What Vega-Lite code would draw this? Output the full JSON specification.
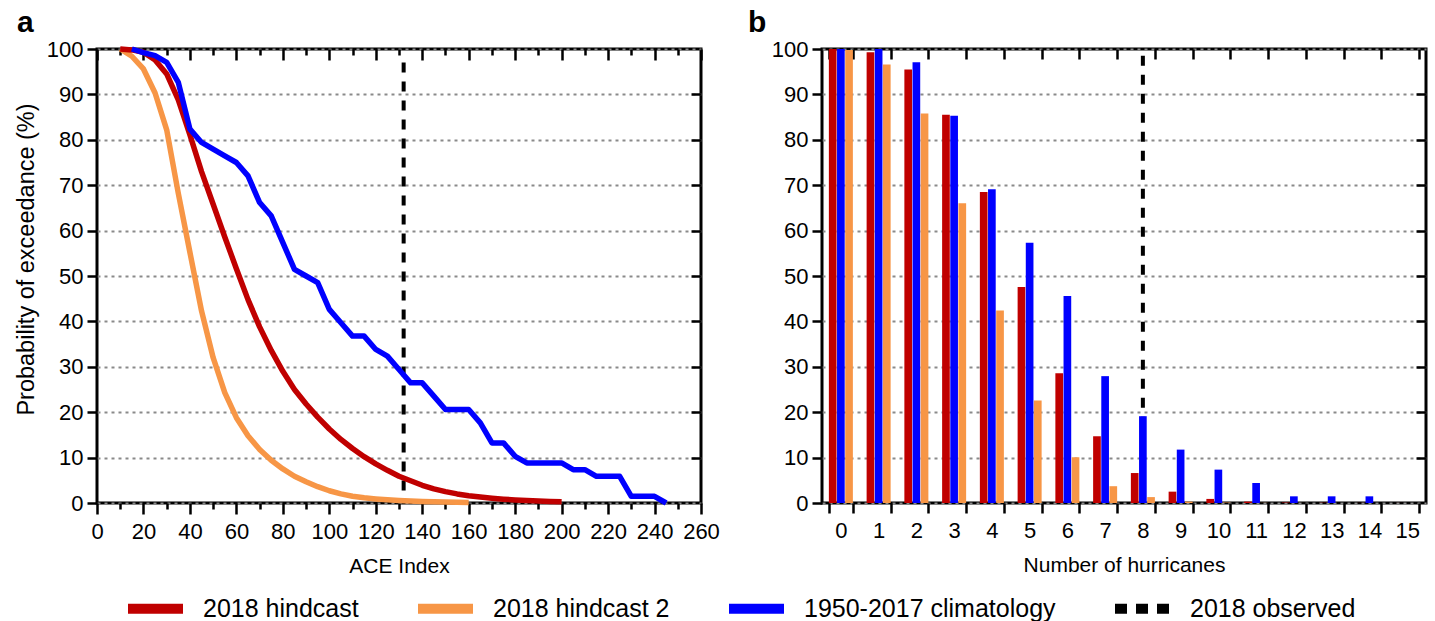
{
  "$schema": "https://vega.github.io/schema/vega-lite/v6.json",
  "background": "white",
  "padding": {"left": 12, "top": 6, "right": 5, "bottom": 0},
  "config": {
    "view": {"stroke": "#000", "strokeWidth": 3},
    "font": "Liberation Sans",
    "axis": {
      "domain": false, "tickColor": "#000", "tickWidth": 2.5,
      "labelFont": "Liberation Sans", "labelFontSize": 22, "labelColor": "#000", "labelPadding": 4, "labelOverlap": false, "labelFlush": false,
      "titleFont": "Liberation Sans", "titleFontSize": 21, "titleFontWeight": "normal", "titleColor": "#000",
      "grid": false
    },
    "legend": {
      "labelFont": "Liberation Sans", "labelFontSize": 25, "labelColor": "#000", "labelLimit": 0,
      "symbolType": "stroke", "symbolSize": 3025, "symbolStrokeWidth": 10,
      "labelOffset": 15, "columnPadding": 39
    }
  },
  "datasets": {
    "curves": [
      {"series": "2018 hindcast 2", "ace": 10, "prob": 100},
      {"series": "2018 hindcast 2", "ace": 15, "prob": 98.4},
      {"series": "2018 hindcast 2", "ace": 20, "prob": 95.6},
      {"series": "2018 hindcast 2", "ace": 25, "prob": 90.3},
      {"series": "2018 hindcast 2", "ace": 30, "prob": 82.2},
      {"series": "2018 hindcast 2", "ace": 35, "prob": 68.2},
      {"series": "2018 hindcast 2", "ace": 40, "prob": 55.2},
      {"series": "2018 hindcast 2", "ace": 45, "prob": 42.3},
      {"series": "2018 hindcast 2", "ace": 50, "prob": 32},
      {"series": "2018 hindcast 2", "ace": 55, "prob": 24.3},
      {"series": "2018 hindcast 2", "ace": 60, "prob": 18.8},
      {"series": "2018 hindcast 2", "ace": 65, "prob": 14.8},
      {"series": "2018 hindcast 2", "ace": 70, "prob": 11.8},
      {"series": "2018 hindcast 2", "ace": 75, "prob": 9.4},
      {"series": "2018 hindcast 2", "ace": 80, "prob": 7.5},
      {"series": "2018 hindcast 2", "ace": 85, "prob": 5.9},
      {"series": "2018 hindcast 2", "ace": 90, "prob": 4.7},
      {"series": "2018 hindcast 2", "ace": 95, "prob": 3.6},
      {"series": "2018 hindcast 2", "ace": 100, "prob": 2.7},
      {"series": "2018 hindcast 2", "ace": 105, "prob": 2.0},
      {"series": "2018 hindcast 2", "ace": 110, "prob": 1.5},
      {"series": "2018 hindcast 2", "ace": 115, "prob": 1.15},
      {"series": "2018 hindcast 2", "ace": 120, "prob": 0.9},
      {"series": "2018 hindcast 2", "ace": 125, "prob": 0.7},
      {"series": "2018 hindcast 2", "ace": 130, "prob": 0.55},
      {"series": "2018 hindcast 2", "ace": 135, "prob": 0.45},
      {"series": "2018 hindcast 2", "ace": 140, "prob": 0.35},
      {"series": "2018 hindcast 2", "ace": 145, "prob": 0.27},
      {"series": "2018 hindcast 2", "ace": 150, "prob": 0.2},
      {"series": "2018 hindcast 2", "ace": 155, "prob": 0.15},
      {"series": "2018 hindcast 2", "ace": 160, "prob": 0.1},
      {"series": "2018 hindcast", "ace": 10, "prob": 100},
      {"series": "2018 hindcast", "ace": 15, "prob": 99.8},
      {"series": "2018 hindcast", "ace": 20, "prob": 99.3},
      {"series": "2018 hindcast", "ace": 25, "prob": 97.6},
      {"series": "2018 hindcast", "ace": 30, "prob": 94.5},
      {"series": "2018 hindcast", "ace": 35, "prob": 88.8},
      {"series": "2018 hindcast", "ace": 40, "prob": 81.1},
      {"series": "2018 hindcast", "ace": 45, "prob": 73},
      {"series": "2018 hindcast", "ace": 50, "prob": 65.8},
      {"series": "2018 hindcast", "ace": 55, "prob": 58.6},
      {"series": "2018 hindcast", "ace": 60, "prob": 51.6},
      {"series": "2018 hindcast", "ace": 65, "prob": 44.8},
      {"series": "2018 hindcast", "ace": 70, "prob": 38.8},
      {"series": "2018 hindcast", "ace": 75, "prob": 33.6},
      {"series": "2018 hindcast", "ace": 80, "prob": 29},
      {"series": "2018 hindcast", "ace": 85, "prob": 25},
      {"series": "2018 hindcast", "ace": 90, "prob": 21.8},
      {"series": "2018 hindcast", "ace": 95, "prob": 18.9},
      {"series": "2018 hindcast", "ace": 100, "prob": 16.3},
      {"series": "2018 hindcast", "ace": 105, "prob": 14},
      {"series": "2018 hindcast", "ace": 110, "prob": 12},
      {"series": "2018 hindcast", "ace": 115, "prob": 10.2},
      {"series": "2018 hindcast", "ace": 120, "prob": 8.6},
      {"series": "2018 hindcast", "ace": 125, "prob": 7.2},
      {"series": "2018 hindcast", "ace": 130, "prob": 5.9},
      {"series": "2018 hindcast", "ace": 135, "prob": 4.9},
      {"series": "2018 hindcast", "ace": 140, "prob": 3.9},
      {"series": "2018 hindcast", "ace": 145, "prob": 3.1},
      {"series": "2018 hindcast", "ace": 150, "prob": 2.5},
      {"series": "2018 hindcast", "ace": 155, "prob": 2.0},
      {"series": "2018 hindcast", "ace": 160, "prob": 1.6},
      {"series": "2018 hindcast", "ace": 165, "prob": 1.3},
      {"series": "2018 hindcast", "ace": 170, "prob": 1.05},
      {"series": "2018 hindcast", "ace": 175, "prob": 0.85},
      {"series": "2018 hindcast", "ace": 180, "prob": 0.68},
      {"series": "2018 hindcast", "ace": 185, "prob": 0.55},
      {"series": "2018 hindcast", "ace": 190, "prob": 0.44},
      {"series": "2018 hindcast", "ace": 195, "prob": 0.35},
      {"series": "2018 hindcast", "ace": 200, "prob": 0.28},
      {"series": "1950-2017 climatology", "ace": 15, "prob": 100},
      {"series": "1950-2017 climatology", "ace": 20, "prob": 99.2},
      {"series": "1950-2017 climatology", "ace": 25, "prob": 98.53},
      {"series": "1950-2017 climatology", "ace": 30, "prob": 97.06},
      {"series": "1950-2017 climatology", "ace": 35, "prob": 92.65},
      {"series": "1950-2017 climatology", "ace": 40, "prob": 82.35},
      {"series": "1950-2017 climatology", "ace": 45, "prob": 79.41},
      {"series": "1950-2017 climatology", "ace": 50, "prob": 77.94},
      {"series": "1950-2017 climatology", "ace": 55, "prob": 76.47},
      {"series": "1950-2017 climatology", "ace": 60, "prob": 75},
      {"series": "1950-2017 climatology", "ace": 65, "prob": 72.06},
      {"series": "1950-2017 climatology", "ace": 70, "prob": 66.18},
      {"series": "1950-2017 climatology", "ace": 75, "prob": 63.24},
      {"series": "1950-2017 climatology", "ace": 80, "prob": 57.35},
      {"series": "1950-2017 climatology", "ace": 85, "prob": 51.47},
      {"series": "1950-2017 climatology", "ace": 90, "prob": 50},
      {"series": "1950-2017 climatology", "ace": 95, "prob": 48.53},
      {"series": "1950-2017 climatology", "ace": 100, "prob": 42.65},
      {"series": "1950-2017 climatology", "ace": 105, "prob": 39.71},
      {"series": "1950-2017 climatology", "ace": 110, "prob": 36.76},
      {"series": "1950-2017 climatology", "ace": 115, "prob": 36.76},
      {"series": "1950-2017 climatology", "ace": 120, "prob": 33.82},
      {"series": "1950-2017 climatology", "ace": 125, "prob": 32.35},
      {"series": "1950-2017 climatology", "ace": 130, "prob": 29.41},
      {"series": "1950-2017 climatology", "ace": 135, "prob": 26.47},
      {"series": "1950-2017 climatology", "ace": 140, "prob": 26.47},
      {"series": "1950-2017 climatology", "ace": 145, "prob": 23.53},
      {"series": "1950-2017 climatology", "ace": 150, "prob": 20.59},
      {"series": "1950-2017 climatology", "ace": 155, "prob": 20.59},
      {"series": "1950-2017 climatology", "ace": 160, "prob": 20.59},
      {"series": "1950-2017 climatology", "ace": 165, "prob": 17.65},
      {"series": "1950-2017 climatology", "ace": 170, "prob": 13.24},
      {"series": "1950-2017 climatology", "ace": 175, "prob": 13.24},
      {"series": "1950-2017 climatology", "ace": 180, "prob": 10.29},
      {"series": "1950-2017 climatology", "ace": 185, "prob": 8.82},
      {"series": "1950-2017 climatology", "ace": 190, "prob": 8.82},
      {"series": "1950-2017 climatology", "ace": 195, "prob": 8.82},
      {"series": "1950-2017 climatology", "ace": 200, "prob": 8.82},
      {"series": "1950-2017 climatology", "ace": 205, "prob": 7.35},
      {"series": "1950-2017 climatology", "ace": 210, "prob": 7.35},
      {"series": "1950-2017 climatology", "ace": 215, "prob": 5.88},
      {"series": "1950-2017 climatology", "ace": 220, "prob": 5.88},
      {"series": "1950-2017 climatology", "ace": 225, "prob": 5.88},
      {"series": "1950-2017 climatology", "ace": 230, "prob": 1.47},
      {"series": "1950-2017 climatology", "ace": 235, "prob": 1.47},
      {"series": "1950-2017 climatology", "ace": 240, "prob": 1.47},
      {"series": "1950-2017 climatology", "ace": 245, "prob": 0}
    ],
    "bars": [
      {"series": "2018 hindcast", "n": 0, "prob": 100},
      {"series": "2018 hindcast", "n": 1, "prob": 99.3},
      {"series": "2018 hindcast", "n": 2, "prob": 95.5},
      {"series": "2018 hindcast", "n": 3, "prob": 85.5},
      {"series": "2018 hindcast", "n": 4, "prob": 68.5},
      {"series": "2018 hindcast", "n": 5, "prob": 47.6},
      {"series": "2018 hindcast", "n": 6, "prob": 28.6},
      {"series": "2018 hindcast", "n": 7, "prob": 14.7},
      {"series": "2018 hindcast", "n": 8, "prob": 6.6},
      {"series": "2018 hindcast", "n": 9, "prob": 2.5},
      {"series": "2018 hindcast", "n": 10, "prob": 0.9},
      {"series": "2018 hindcast", "n": 11, "prob": 0.3},
      {"series": "2018 hindcast", "n": 12, "prob": 0.1},
      {"series": "2018 hindcast", "n": 13, "prob": 0.05},
      {"series": "2018 hindcast", "n": 14, "prob": 0.02},
      {"series": "2018 hindcast", "n": 15, "prob": 0.01},
      {"series": "1950-2017 climatology", "n": 0, "prob": 100},
      {"series": "1950-2017 climatology", "n": 1, "prob": 100},
      {"series": "1950-2017 climatology", "n": 2, "prob": 97.06},
      {"series": "1950-2017 climatology", "n": 3, "prob": 85.29},
      {"series": "1950-2017 climatology", "n": 4, "prob": 69.12},
      {"series": "1950-2017 climatology", "n": 5, "prob": 57.35},
      {"series": "1950-2017 climatology", "n": 6, "prob": 45.59},
      {"series": "1950-2017 climatology", "n": 7, "prob": 27.94},
      {"series": "1950-2017 climatology", "n": 8, "prob": 19.12},
      {"series": "1950-2017 climatology", "n": 9, "prob": 11.76},
      {"series": "1950-2017 climatology", "n": 10, "prob": 7.35},
      {"series": "1950-2017 climatology", "n": 11, "prob": 4.41},
      {"series": "1950-2017 climatology", "n": 12, "prob": 1.47},
      {"series": "1950-2017 climatology", "n": 13, "prob": 1.47},
      {"series": "1950-2017 climatology", "n": 14, "prob": 1.47},
      {"series": "1950-2017 climatology", "n": 15, "prob": 0},
      {"series": "2018 hindcast 2", "n": 0, "prob": 99.8},
      {"series": "2018 hindcast 2", "n": 1, "prob": 96.6},
      {"series": "2018 hindcast 2", "n": 2, "prob": 85.8},
      {"series": "2018 hindcast 2", "n": 3, "prob": 66.0},
      {"series": "2018 hindcast 2", "n": 4, "prob": 42.4},
      {"series": "2018 hindcast 2", "n": 5, "prob": 22.6},
      {"series": "2018 hindcast 2", "n": 6, "prob": 10.1},
      {"series": "2018 hindcast 2", "n": 7, "prob": 3.7},
      {"series": "2018 hindcast 2", "n": 8, "prob": 1.3},
      {"series": "2018 hindcast 2", "n": 9, "prob": 0.3},
      {"series": "2018 hindcast 2", "n": 10, "prob": 0.1},
      {"series": "2018 hindcast 2", "n": 11, "prob": 0.03},
      {"series": "2018 hindcast 2", "n": 12, "prob": 0.01},
      {"series": "2018 hindcast 2", "n": 13, "prob": 0},
      {"series": "2018 hindcast 2", "n": 14, "prob": 0},
      {"series": "2018 hindcast 2", "n": 15, "prob": 0}
    ],
    "obsA": [{"series": "2018 observed", "ace": 132, "top": 97, "bottom": 0}],
    "obsB": [{"series": "2018 observed", "n": 8, "top": 98.5, "bottom": 0}]
  },
  "hconcat": [
    {
      "width": 604,
      "height": 454,
      "title": {"text": "a", "anchor": "start", "frame": "group", "dx": -80, "fontSize": 30, "fontWeight": "bold", "baseline": "alphabetic", "offset": -24, "font": "Liberation Sans", "color": "#000"},
      "layer": [
        {
          "data": {"name": "obsA"},
          "mark": {"type": "rule", "strokeDash": [10, 9], "strokeWidth": 4, "color": "#000"},
          "encoding": {
            "x": {
              "field": "ace", "type": "quantitative",
              "scale": {"domain": [0, 260], "nice": false, "zero": false},
              "axis": {
                "orient": "bottom", "title": "ACE Index", "titlePadding": 13,
                "values": [0, 10, 20, 30, 40, 50, 60, 70, 80, 90, 100, 110, 120, 130, 140, 150, 160, 170, 180, 190, 200, 210, 220, 230, 240, 250, 260],
                "tickSize": {"condition": {"test": "datum.value % 20 === 0", "value": 11}, "value": 6},
                "labelExpr": "datum.value % 20 === 0 ? datum.label : ''",
                "labelPadding": 7
              }
            },
            "y": {
              "field": "top", "type": "quantitative",
              "scale": {"domain": [0, 100], "nice": false},
              "axis": {"orient": "right", "values": [10, 20, 30, 40, 50, 60, 70, 80, 90], "tickSize": -10, "labels": false, "title": null}
            },
            "y2": {"field": "bottom"}
          }
        },
        {
          "data": {"name": "curves"},
          "mark": {"type": "line", "strokeWidth": 5.5, "strokeJoin": "round"},
          "encoding": {
            "x": {
              "field": "ace", "type": "quantitative",
              "axis": {
                "orient": "top", "title": null, "labels": false,
                "values": [0, 10, 20, 30, 40, 50, 60, 70, 80, 90, 100, 110, 120, 130, 140, 150, 160, 170, 180, 190, 200, 210, 220, 230, 240, 250, 260],
                "tickSize": {"condition": {"test": "datum.value % 20 === 0", "value": -11}, "value": -6}
              }
            },
            "y": {
              "field": "prob", "type": "quantitative",
              "axis": {
                "orient": "left", "title": "Probability of exceedance (%)", "titlePadding": 8, "titleFontSize": 23.5, "titleY": 210,
                "values": [0, 10, 20, 30, 40, 50, 60, 70, 80, 90, 100], "tickSize": 10,
                "grid": true, "gridDash": [3, 4], "gridColor": "#8a8a8a", "gridWidth": 1.8
              }
            },
            "color": {
              "field": "series", "type": "nominal",
              "scale": {"domain": ["2018 hindcast", "2018 hindcast 2", "1950-2017 climatology", "2018 observed"], "range": ["#C00000", "#F79646", "#0000FF", "#000000"]},
              "sort": null,
              "legend": {
                "title": null, "orient": "none", "legendX": 26, "legendY": 527, "direction": "horizontal",
                "encode": {"symbols": {"update": {"strokeDash": {"signal": "datum.value === '2018 observed' ? [12, 9] : [1, 0]"}}}}
              }
            },
            "order": {"field": "ace", "type": "quantitative"}
          }
        }
      ],
      "resolve": {"axis": {"x": "independent", "y": "independent"}}
    },
    {
      "width": 604,
      "height": 454,
      "title": {"text": "b", "anchor": "start", "frame": "group", "dx": -74, "fontSize": 30, "fontWeight": "bold", "baseline": "alphabetic", "offset": -24, "font": "Liberation Sans", "color": "#000"},
      "layer": [
        {
          "data": {"name": "obsB"},
          "mark": {"type": "rule", "strokeDash": [10, 9], "strokeWidth": 4, "color": "#000"},
          "encoding": {
            "x": {
              "field": "n", "type": "ordinal",
              "scale": {"domain": [0, 1, 2, 3, 4, 5, 6, 7, 8, 9, 10, 11, 12, 13, 14, 15], "paddingInner": 0.364, "paddingOuter": 0.182},
              "axis": {"orient": "bottom", "title": "Number of hurricanes", "titlePadding": 13, "tickBand": "extent", "tickSize": 10, "labelAngle": 0, "labelPadding": 7}
            },
            "y": {
              "field": "top", "type": "quantitative",
              "scale": {"domain": [0, 100], "nice": false},
              "axis": {"orient": "right", "values": [10, 20, 30, 40, 50, 60, 70, 80, 90], "tickSize": -10, "labels": false, "title": null}
            },
            "y2": {"field": "bottom"}
          }
        },
        {
          "data": {"name": "bars"},
          "mark": {"type": "bar"},
          "encoding": {
            "x": {
              "field": "n", "type": "ordinal",
              "axis": {"orient": "top", "title": null, "labels": false, "tickBand": "extent", "tickSize": -10}
            },
            "xOffset": {
              "field": "series", "type": "nominal",
              "scale": {"domain": ["2018 hindcast", "1950-2017 climatology", "2018 hindcast 2"], "paddingInner": 0.06}
            },
            "y": {
              "field": "prob", "type": "quantitative",
              "axis": {
                "orient": "left", "title": null,
                "values": [0, 10, 20, 30, 40, 50, 60, 70, 80, 90, 100], "tickSize": 10,
                "grid": true, "gridDash": [3, 4], "gridColor": "#8a8a8a", "gridWidth": 1.8
              }
            },
            "color": {
              "field": "series", "type": "nominal",
              "scale": {"domain": ["2018 hindcast", "2018 hindcast 2", "1950-2017 climatology", "2018 observed"], "range": ["#C00000", "#F79646", "#0000FF", "#000000"]},
              "legend": null
            }
          }
        }
      ],
      "resolve": {"axis": {"x": "independent", "y": "independent"}}
    }
  ],
  "spacing": 121,
  "bounds": "flush",
  "resolve": {"scale": {"color": "shared"}, "legend": {"color": "shared"}}
}
